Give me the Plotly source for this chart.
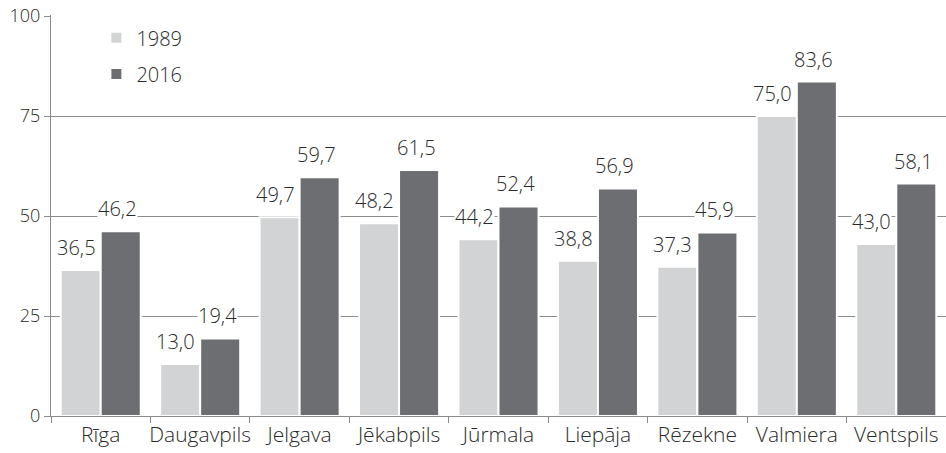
import plotly.graph_objects as go

categories = ["Rīga", "Daugavpils", "Jelgava", "Jēkabpils", "Jūrmala", "Liepāja", "Rēzekne", "Valmiera", "Ventspils"]
series_names = ["1989", "2016"]
values_1989 = [36.5, 13.0, 49.7, 48.2, 44.2, 38.8, 37.3, 75.0, 43.0]
values_2016 = [46.2, 19.4, 59.7, 61.5, 52.4, 56.9, 45.9, 83.6, 58.1]
y_ticks = [0, 25, 50, 75, 100]

FONT = "Open Sans"
TXT = "#2a2a2a"
GRID = "#8c8c8c"
COLORS = ["#d1d3d4", "#6d6e71"]

fig = go.Figure()
for i, (name, vals) in enumerate(zip(series_names, [values_1989, values_2016])):
    fig.add_trace(go.Bar(
        x=categories, y=vals, name=name, marker_color=COLORS[i],
        marker_line=dict(color="white", width=2),
        legend="legend" if i == 0 else "legend2",
    ))

# data labels, placed above each bar
for i, vals in enumerate([values_1989, values_2016]):
    shift = -24.5 if i == 0 else 17
    for c, v in zip(categories, vals):
        fig.add_annotation(
            x=c, y=v, text=f"{v:.1f}".replace(".", ","), showarrow=False,
            xanchor="center", yanchor="bottom", xshift=shift, yshift=8,
            font=dict(family=FONT, size=20, color=TXT, weight=300),
            bgcolor="white", borderpad=0,
        )

legend_common = dict(
    font=dict(family=FONT, size=20, color=TXT, weight=300),
    bgcolor="rgba(0,0,0,0)", xanchor="left", yanchor="middle",
    itemwidth=30,
)

fig.update_layout(
    width=946, height=453,
    margin=dict(l=51, r=0, t=15, b=37),
    paper_bgcolor="white", plot_bgcolor="white",
    separators=",.",
    barmode="group", bargap=0.195, bargroupgap=0.0,
    font=dict(family=FONT, size=20, color=TXT, weight=300),
    showlegend=True,
    legend=dict(x=0.0507, y=0.943, **legend_common),
    legend2=dict(x=0.0507, y=0.853, **legend_common),
)
fig.update_yaxes(
    range=[0, 100.25], tickvals=y_ticks, showgrid=True, gridcolor=GRID, gridwidth=1,
    showline=True, linecolor=GRID, linewidth=1,
    ticks="outside", ticklen=6, tickcolor=GRID,
    tickfont=dict(family=FONT, size=18, color=TXT, weight=300),
    zeroline=False, automargin=False,
)
fig.update_xaxes(
    showline=True, linecolor=GRID, linewidth=1,
    ticks="outside", tickson="boundaries", ticklen=6, tickcolor=GRID,
    tickfont=dict(family=FONT, size=21, color=TXT, weight=300),
    tickangle=0,
    range=[-0.5, 8.5], automargin=False,
)

fig.write_html(
    "out.html",
    config={"displayModeBar": False},
    post_script="document.body.style.margin='0';",
)
